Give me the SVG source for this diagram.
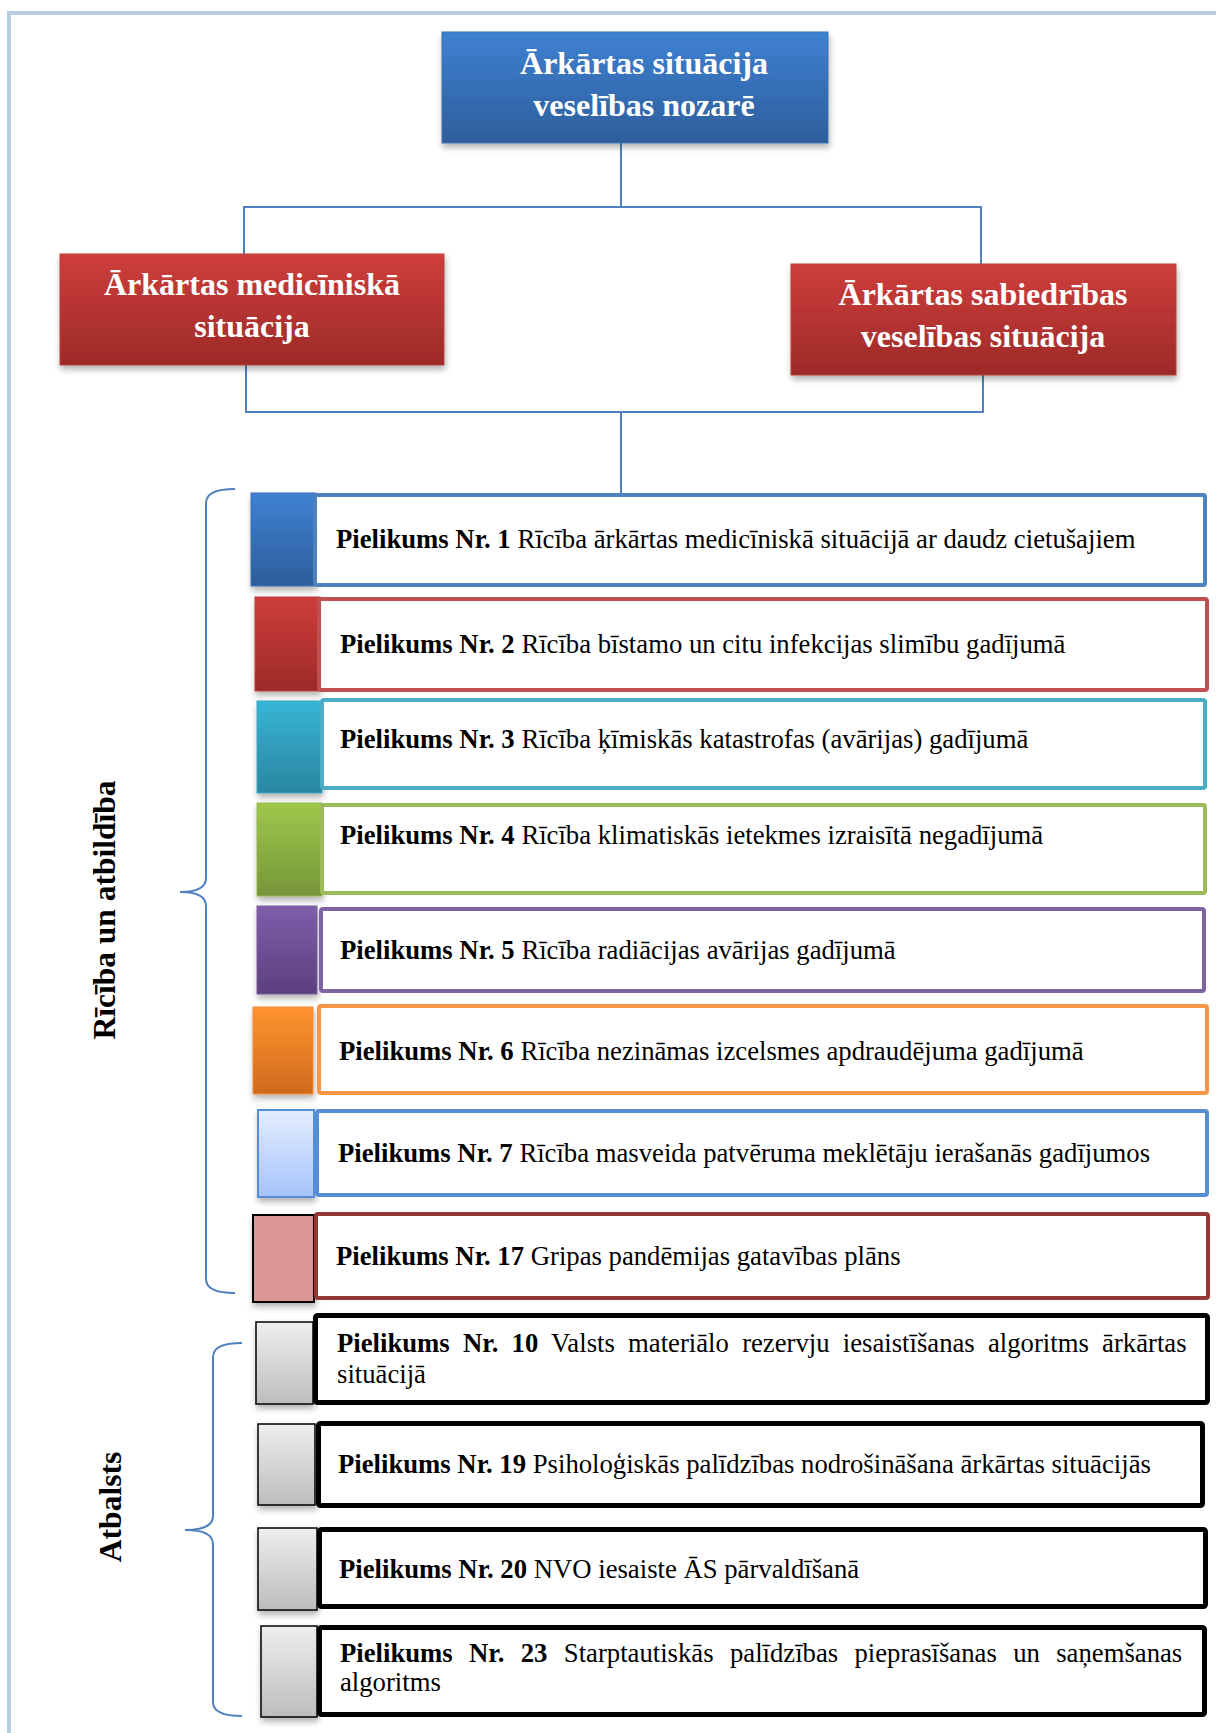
<svg xmlns="http://www.w3.org/2000/svg" width="1216" height="1733" viewBox="0 0 1216 1733">
<defs>
<style>
.hd{font-family:"Liberation Serif","Times New Roman",serif;font-weight:bold;font-size:32px;fill:#fff;text-anchor:middle}
.tx{font-family:"Liberation Serif","Times New Roman",serif;font-size:26.7px;fill:#000}
.b{font-weight:bold}
.side{font-family:"Liberation Serif","Times New Roman",serif;font-weight:bold;font-size:31.5px;fill:#000;text-anchor:middle}
.con{fill:none;stroke:#4F81BD;stroke-width:2}
.brace{fill:none;stroke:#4F81BD;stroke-width:2}
.box{fill:#fff;stroke-width:4}
.bk{fill:#fff;stroke:#000;stroke-width:5}
</style>
<linearGradient id="gBlue" x1="0" y1="0" x2="0" y2="1"><stop offset="0" stop-color="#3E81D2"/><stop offset="1" stop-color="#2D5E9B"/></linearGradient>
<linearGradient id="gRed" x1="0" y1="0" x2="0" y2="1"><stop offset="0" stop-color="#CE3E3B"/><stop offset="1" stop-color="#9C2A28"/></linearGradient>
<linearGradient id="gCyan" x1="0" y1="0" x2="0" y2="1"><stop offset="0" stop-color="#36B5D6"/><stop offset="1" stop-color="#2A869F"/></linearGradient>
<linearGradient id="gGreen" x1="0" y1="0" x2="0" y2="1"><stop offset="0" stop-color="#9FC74B"/><stop offset="1" stop-color="#76963A"/></linearGradient>
<linearGradient id="gPurple" x1="0" y1="0" x2="0" y2="1"><stop offset="0" stop-color="#7F5EAA"/><stop offset="1" stop-color="#5C3F7D"/></linearGradient>
<linearGradient id="gOrange" x1="0" y1="0" x2="0" y2="1"><stop offset="0" stop-color="#FF942F"/><stop offset="1" stop-color="#CF6A1D"/></linearGradient>
<linearGradient id="gLight" x1="0" y1="0" x2="0" y2="1"><stop offset="0" stop-color="#E3EDFE"/><stop offset="1" stop-color="#A6C4FC"/></linearGradient>
<linearGradient id="gGray" x1="0" y1="0" x2="0" y2="1"><stop offset="0" stop-color="#EEEEEE"/><stop offset="1" stop-color="#BDBDBD"/></linearGradient>
<filter id="sh" x="-10%" y="-10%" width="120%" height="130%"><feDropShadow dx="1" dy="4" stdDeviation="3" flood-color="#000" flood-opacity="0.3"/></filter>
</defs>
<rect width="1216" height="1733" fill="#fff"/>
<!-- frame -->
<path d="M9,1733 V13 H1216" fill="none" stroke="#B9CDE5" stroke-width="4"/>

<g id="connectors">
<path class="con" d="M621,143 V207 M244,254 V207 H981 V264"/>
<path class="con" d="M246,365 V412 H983 V375 M621,412 V493"/>
</g>

<g id="braces">
<path class="brace" d="M235,489 Q206,489 206,503 L206,878 Q206,892 180,892 Q206,892 206,906 L206,1279 Q206,1293 235,1293"/>
<path class="brace" d="M242,1343 Q213,1343 213,1357 L213,1516 Q213,1530 185,1530 Q213,1530 213,1544 L213,1702 Q213,1716 242,1716"/>
</g>

<g id="top">
<rect x="442" y="32" width="386" height="111" fill="url(#gBlue)" stroke="#3A70B4" stroke-width="1" filter="url(#sh)"/>
<text class="hd" x="644" y="74">Ārkārtas situācija</text>
<text class="hd" x="644" y="116">veselības nozarē</text>
</g>
<g id="med">
<rect x="60" y="254" width="384" height="111" fill="url(#gRed)" stroke="#B8403C" stroke-width="1" filter="url(#sh)"/>
<text class="hd" x="252" y="295">Ārkārtas medicīniskā</text>
<text class="hd" x="252" y="337">situācija</text>
</g>
<g id="pub">
<rect x="791" y="264" width="385" height="111" fill="url(#gRed)" stroke="#B8403C" stroke-width="1" filter="url(#sh)"/>
<text class="hd" x="983" y="305">Ārkārtas sabiedrības</text>
<text class="hd" x="983" y="347">veselības situācija</text>
</g>

<g id="label-ricība">
<text class="side" transform="translate(115,910) rotate(-90)">Rīcība un atbildība</text>
</g>
<g id="label-atbalsts">
<text class="side" transform="translate(121,1507) rotate(-90)">Atbalsts</text>
</g>

<g id="p1">
<rect x="251" y="493" width="65" height="93" fill="url(#gBlue)" stroke="#3A70B4" stroke-width="1" filter="url(#sh)"/>
<rect class="box" x="315" y="495" width="890" height="90" rx="2" stroke="#4F81BD"/>
<text class="tx" x="336" y="548"><tspan class="b">Pielikums Nr. 1</tspan> Rīcība ārkārtas medicīniskā situācijā ar daudz cietušajiem</text>
</g>
<g id="p2">
<rect x="255" y="597" width="65" height="94" fill="url(#gRed)" stroke="#B8403C" stroke-width="1" filter="url(#sh)"/>
<rect class="box" x="319" y="599" width="888" height="91" rx="2" stroke="#C0504D"/>
<text class="tx" x="340" y="653"><tspan class="b">Pielikums Nr. 2</tspan> Rīcība bīstamo un citu infekcijas slimību gadījumā</text>
</g>
<g id="p3">
<rect x="257" y="701" width="65" height="92" fill="url(#gCyan)" stroke="#45A5C0" stroke-width="1" filter="url(#sh)"/>
<rect class="box" x="322" y="700" width="883" height="88" rx="2" stroke="#4BACC6"/>
<text class="tx" x="340" y="748"><tspan class="b">Pielikums Nr. 3</tspan> Rīcība ķīmiskās katastrofas (avārijas) gadījumā</text>
</g>
<g id="p4">
<rect x="257" y="803" width="65" height="93" fill="url(#gGreen)" stroke="#93B553" stroke-width="1" filter="url(#sh)"/>
<rect class="box" x="322" y="805" width="883" height="88" rx="2" stroke="#9BBB59"/>
<text class="tx" x="340" y="844"><tspan class="b">Pielikums Nr. 4</tspan> Rīcība klimatiskās ietekmes izraisītā negadījumā</text>
</g>
<g id="p5">
<rect x="257" y="906" width="60" height="88" fill="url(#gPurple)" stroke="#7A5E9C" stroke-width="1" filter="url(#sh)"/>
<rect class="box" x="321" y="909" width="883" height="82" rx="2" stroke="#8064A2"/>
<text class="tx" x="340" y="959"><tspan class="b">Pielikums Nr. 5</tspan> Rīcība radiācijas avārijas gadījumā</text>
</g>
<g id="p6">
<rect x="253" y="1007" width="60" height="87" fill="url(#gOrange)" stroke="#F08C3E" stroke-width="1" filter="url(#sh)"/>
<rect class="box" x="319" y="1006" width="888" height="87" rx="2" stroke="#F79646"/>
<text class="tx" x="339" y="1060"><tspan class="b">Pielikums Nr. 6</tspan> Rīcība nezināmas izcelsmes apdraudējuma gadījumā</text>
</g>
<g id="p7">
<rect x="258" y="1110" width="56" height="87" fill="url(#gLight)" stroke="#558ED5" stroke-width="2" filter="url(#sh)"/>
<rect class="box" x="317" y="1111" width="890" height="84" rx="2" stroke="#558ED5"/>
<text class="tx" x="338" y="1162"><tspan class="b">Pielikums Nr. 7</tspan> Rīcība masveida patvēruma meklētāju ierašanās gadījumos</text>
</g>
<g id="p17">
<rect x="253" y="1215" width="61" height="87" fill="#D99694" stroke="#000" stroke-width="2" filter="url(#sh)"/>
<rect class="box" x="316" y="1214" width="892" height="84" rx="2" stroke="#953735"/>
<text class="tx" x="336" y="1265"><tspan class="b">Pielikums Nr. 17</tspan> Gripas pandēmijas gatavības plāns</text>
</g>
<g id="p10">
<rect x="256" y="1322" width="57" height="82" fill="url(#gGray)" stroke="#000" stroke-width="1.5" filter="url(#sh)"/>
<rect class="bk" x="315.5" y="1315.5" width="892" height="87" rx="2"/>
<text class="tx" x="337" y="1352" word-spacing="6.6"><tspan class="b">Pielikums Nr. 10</tspan> Valsts materiālo rezervju iesaistīšanas algoritms ārkārtas</text>
<text class="tx" x="337" y="1383">situācijā</text>
</g>
<g id="p19">
<rect x="258" y="1424" width="57" height="81" fill="url(#gGray)" stroke="#000" stroke-width="1.5" filter="url(#sh)"/>
<rect class="bk" x="318.5" y="1423.5" width="884" height="82" rx="2"/>
<text class="tx" x="338" y="1473"><tspan class="b">Pielikums Nr. 19</tspan> Psiholoģiskās palīdzības nodrošināšana ārkārtas situācijās</text>
</g>
<g id="p20">
<rect x="258" y="1528" width="59" height="82" fill="url(#gGray)" stroke="#000" stroke-width="1.5" filter="url(#sh)"/>
<rect class="bk" x="319.5" y="1529.5" width="886" height="77" rx="2"/>
<text class="tx" x="339" y="1578"><tspan class="b">Pielikums Nr. 20</tspan> NVO iesaiste ĀS pārvaldīšanā</text>
</g>
<g id="p23">
<rect x="261" y="1626" width="56" height="91" fill="url(#gGray)" stroke="#000" stroke-width="1.5" filter="url(#sh)"/>
<rect class="bk" x="319.5" y="1627.5" width="885" height="87" rx="2"/>
<text class="tx" x="340" y="1662" word-spacing="9.7"><tspan class="b">Pielikums Nr. 23</tspan> Starptautiskās palīdzības pieprasīšanas un saņemšanas</text>
<text class="tx" x="340" y="1691">algoritms</text>
</g>
</svg>
